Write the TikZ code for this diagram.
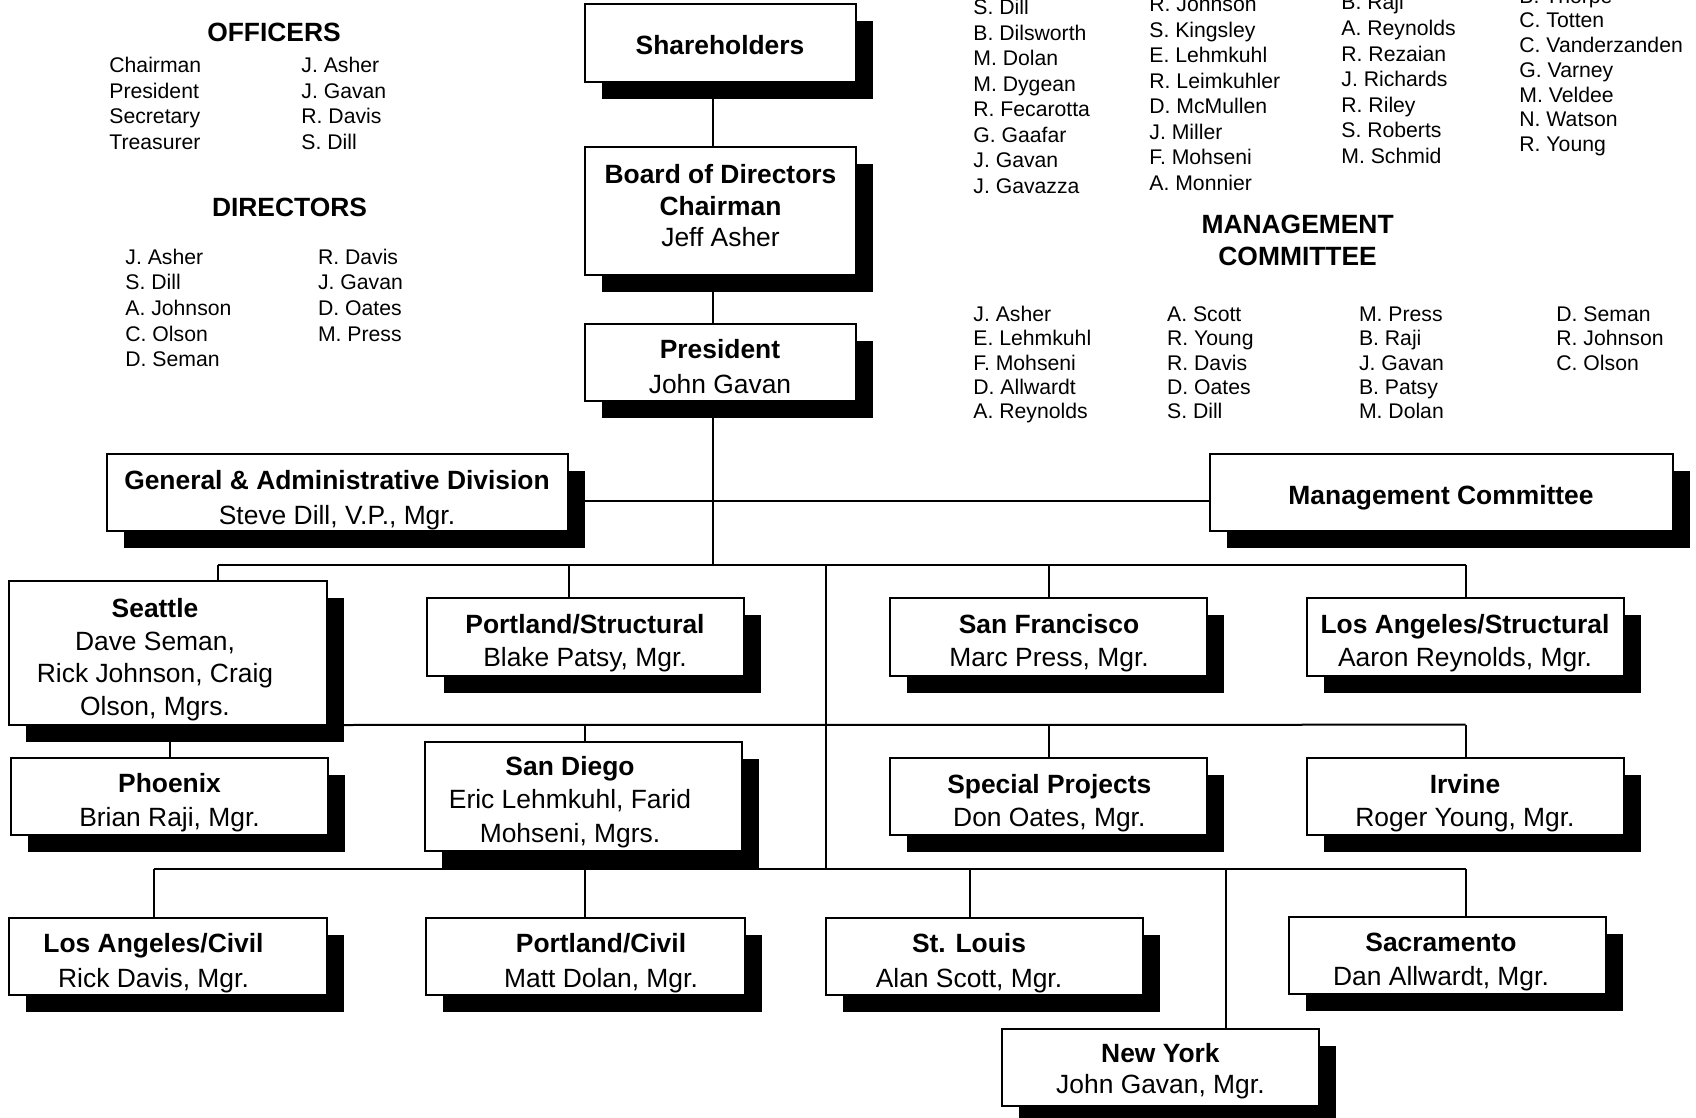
\documentclass[tikz,border=0pt]{standalone}
\usepackage{fontspec}
\setmainfont{Liberation Sans}
\usetikzlibrary{shadows}
% multi-line centred box text: #1 = line pitch (pt), #2 = lines
\newcommand{\tl}[2]{\fontsize{13.2}{#1}\selectfont\begin{tabular}[t]{@{}c@{}}#2\end{tabular}}
% left-aligned name list
\newcommand{\nl}[2]{\fontsize{10.6}{#1}\selectfont\begin{tabular}[t]{@{}l@{}}#2\end{tabular}}
\newcommand{\hd}[1]{\fontsize{13.2}{15.85}\selectfont\bfseries #1}
\newcommand{\obox}[5]{\node[box, minimum width={(#4-#2)*0.5pt}, minimum height={(#5-#3)*0.5pt}] (#1) at ({(#2+#4)/2},{(#3+#5)/2}) {};}
\begin{document}
\begin{tikzpicture}[x=0.5pt,y=-0.5pt,
  box/.style={draw=black, line width=1.15pt, fill=white, inner sep=0pt, outer sep=0pt,
    drop shadow={shadow xshift=8.5pt, shadow yshift=-8.5pt, fill=black, opacity=1}},
  txt/.style={inner sep=0pt, anchor=base},
  lst/.style={inner sep=0pt, anchor=base west},
  link/.style={draw=black, line width=1pt}]
\useasboundingbox (0,0) rectangle (1696,1118);
\clip (0,0) rectangle (1696,1118);
\fill[white] (0,0) rectangle (1696,1118);

% ---------- helper coordinates ----------
\coordinate (tx) at (713,0);
\coordinate (gy) at (0,500.7);
\coordinate (bar1) at (0,564.7);
\coordinate (bar2) at (0,724.7);
\coordinate (bar3) at (0,869);
\coordinate (vx) at (826,0);
\coordinate (xsea) at (218,0);
\coordinate (xpds) at (569,0);
\coordinate (xsf) at (1049,0);
\coordinate (xlas) at (1465.5,0);
\coordinate (xsd) at (585,0);
\coordinate (xphx) at (170,0);
\coordinate (xlac) at (154,0);
\coordinate (xpdc) at (585.4,0);
\coordinate (xstl) at (970,0);
\coordinate (xny) at (1226,0);

% ---------- anchor placeholders (invisible) ----------
\begin{scope}[box/.style={inner sep=0pt, outer sep=0pt}]
\obox{share}{585}{4}{856}{82}
\obox{board}{585}{147}{856}{275}
\obox{pres}{585}{324}{856}{401}
\obox{ga}{107}{454}{568}{531}
\obox{mc}{1210}{454}{1673}{531}
\obox{sea}{9}{581}{327}{725}
\obox{pds}{427}{598}{744}{676}
\obox{sf}{890}{598}{1207}{676}
\obox{las}{1307}{598}{1624}{676}
\obox{phx}{11}{758}{328}{835}
\obox{sd}{425}{742}{742}{851}
\obox{sp}{890}{758}{1207}{835}
\obox{irv}{1307}{758}{1624}{835}
\obox{lac}{9}{918}{327}{995}
\obox{pdc}{426}{918}{745}{995}
\obox{stl}{826}{918}{1143}{995}
\obox{sac}{1289}{917}{1606}{994}
\obox{ny}{1002}{1029}{1319}{1106}
\end{scope}

% ---------- connectors ----------
\draw[link] (share.south -| tx) -- (board.north -| tx);
\draw[link] (board.south -| tx) -- (pres.north -| tx);
\draw[link] (pres.south -| tx) -- (bar1 -| tx);
\draw[link] (ga.east |- gy) -- (mc.west |- gy);
\draw[link] (bar1 -| xsea) -- (bar1 -| xlas);
\draw[link] (bar1 -| xsea) -- (sea.north -| xsea);
\draw[link] (bar1 -| xpds) -- (pds.north -| xpds);
\draw[link] (bar1 -| xsf) -- (sf.north -| xsf);
\draw[link] (bar1 -| xlas) -- (las.north -| xlas);
\draw[link] (bar1 -| vx) -- (bar3 -| vx);
\draw[link] (sea.south east) -- (bar2 -| xlas);
\draw[link] (sea.south -| xphx) -- (phx.north -| xphx);
\draw[link] (bar2 -| xsd) -- (sd.north -| xsd);
\draw[link] (bar2 -| xsf) -- (sp.north -| xsf);
\draw[link] (bar2 -| xlas) -- (irv.north -| xlas);
\draw[link] (bar3 -| xlac) -- (bar3 -| xlas);
\draw[link] (bar3 -| xlac) -- (lac.north -| xlac);
\draw[link] (bar3 -| xpdc) -- (pdc.north -| xpdc);
\draw[link] (bar3 -| xstl) -- (stl.north -| xstl);
\draw[link] (bar3 -| xny) -- (ny.north -| xny);
\draw[link] (bar3 -| xlas) -- (sac.north -| xlas);

% ---------- visible boxes with shadows ----------
\obox{shareB}{585}{4}{856}{82}
\obox{boardB}{585}{147}{856}{275}
\obox{presB}{585}{324}{856}{401}
\obox{gaB}{107}{454}{568}{531}
\obox{mcB}{1210}{454}{1673}{531}
\obox{seaB}{9}{581}{327}{725}
\obox{pdsB}{427}{598}{744}{676}
\obox{sfB}{890}{598}{1207}{676}
\obox{lasB}{1307}{598}{1624}{676}
\obox{phxB}{11}{758}{328}{835}
\obox{sdB}{425}{742}{742}{851}
\obox{spB}{890}{758}{1207}{835}
\obox{irvB}{1307}{758}{1624}{835}
\obox{lacB}{9}{918}{327}{995}
\obox{pdcB}{426}{918}{745}{995}
\obox{stlB}{826}{918}{1143}{995}
\obox{sacB}{1289}{917}{1606}{994}
\obox{nyB}{1002}{1029}{1319}{1106}

% ---------- box texts ----------
\node[txt] (shareT) at (720,55) {\tl{16}{\textbf{Shareholders}}};
\node[txt] (boardT) at (720.5,183.5) {\tl{15.85}{\textbf{Board of Directors}\\\textbf{Chairman}\\Jeff Asher}};
\node[txt] (presT) at (720,358.8) {\tl{17.2}{\textbf{President}\\John Gavan}};
\node[txt] (gaT) at (337,489.3) {\tl{17.35}{\textbf{General \& Administrative Division}\\Steve Dill, V.P., Mgr.}};
\node[txt] (mcT) at (1441,504.5) {\tl{16}{\textbf{Management Committee}}};
\node[txt] (seaT) at (155,617.2) {\tl{16.4}{\textbf{Seattle}\\Dave Seman,\\Rick Johnson, Craig\\Olson, Mgrs.}};
\node[txt] (pdsT) at (585,633.2) {\tl{16.65}{\textbf{Portland/Structural}\\Blake Patsy, Mgr.}};
\node[txt] (sfT) at (1049,633.2) {\tl{16.65}{\textbf{San Francisco}\\Marc Press, Mgr.}};
\node[txt] (lasT) at (1465,633.2) {\tl{16.65}{\textbf{Los Angeles/Structural}\\Aaron Reynolds, Mgr.}};
\node[txt] (phxT) at (169.5,792.8) {\tl{16.85}{\textbf{Phoenix}\\Brian Raji, Mgr.}};
\node[txt] (sdT) at (570,775.5) {\tl{16.65}{\textbf{San Diego}\\Eric Lehmkuhl, Farid\\Mohseni, Mgrs.}};
\node[txt] (spT) at (1049.3,793.2) {\tl{16.65}{\textbf{Special Projects}\\Don Oates, Mgr.}};
\node[txt] (irvT) at (1465,793.2) {\tl{16.65}{\textbf{Irvine}\\Roger Young, Mgr.}};
\node[txt] (lacT) at (153.5,952.8) {\tl{17.2}{\textbf{Los Angeles/Civil}\\Rick Davis, Mgr.}};
\node[txt] (pdcT) at (601,952.8) {\tl{17.2}{\textbf{Portland/Civil}\\Matt Dolan, Mgr.}};
\node[txt] (stlT) at (969,952.8) {\tl{17.2}{\textbf{St. Louis}\\Alan Scott, Mgr.}};
\node[txt] (sacT) at (1441,951.5) {\tl{17.2}{\textbf{Sacramento}\\Dan Allwardt, Mgr.}};
\node[txt] (nyT) at (1160.4,1062.2) {\tl{15.8}{\textbf{New York}\\John Gavan, Mgr.}};

% ---------- officers & directors ----------
\node[txt] (offH) at (274,41.7) {\hd{OFFICERS}};
\node[lst] (offL) at (109,72.7) {\nl{12.8}{Chairman\\President\\Secretary\\Treasurer}};
\node[lst] (offR) at (301,72.7) {\nl{12.8}{J. Asher\\J. Gavan\\R. Davis\\S. Dill}};
\node[txt] (dirH) at (289.5,217) {\hd{DIRECTORS}};
\node[lst] (dirL) at (125,264.3) {\nl{12.8}{J. Asher\\S. Dill\\A. Johnson\\C. Olson\\D. Seman}};
\node[lst] (dirR) at (317.6,264.3) {\nl{12.8}{R. Davis\\J. Gavan\\D. Oates\\M. Press}};

% ---------- employee list (top right, cut at top edge as in the original) ----------
\node[lst] (emp1) at (973,15) {\nl{12.75}{S. Dill\\B. Dilsworth\\M. Dolan\\M. Dygean\\R. Fecarotta\\G. Gaafar\\J. Gavan\\J. Gavazza}};
\node[lst] (emp2) at (1149,11.7) {\nl{12.75}{R. Johnson\\S. Kingsley\\E. Lehmkuhl\\R. Leimkuhler\\D. McMullen\\J. Miller\\F. Mohseni\\A. Monnier}};
\node[lst] (emp3) at (1341,10) {\nl{12.8}{B. Raji\\A. Reynolds\\R. Rezaian\\J. Richards\\R. Riley\\S. Roberts\\M. Schmid}};
\node[lst] (emp4) at (1519,3.3) {\nl{12.35}{B. Thorpe\\C. Totten\\C. Vanderzanden\\G. Varney\\M. Veldee\\N. Watson\\R. Young}};

% ---------- management committee list ----------
\node[txt] (mgH) at (1297.6,233.3) {\tl{15.85}{\textbf{MANAGEMENT}\\\textbf{COMMITTEE}}};
\node[lst] (mg1) at (973,321.7) {\nl{12.1}{J. Asher\\E. Lehmkuhl\\F. Mohseni\\D. Allwardt\\A. Reynolds}};
\node[lst] (mg2) at (1166.7,321.7) {\nl{12.1}{A. Scott\\R. Young\\R. Davis\\D. Oates\\S. Dill}};
\node[lst] (mg3) at (1358.6,321.7) {\nl{12.1}{M. Press\\B. Raji\\J. Gavan\\B. Patsy\\M. Dolan}};
\node[lst] (mg4) at (1556,321.7) {\nl{12.1}{D. Seman\\R. Johnson\\C. Olson}};
\end{tikzpicture}
\end{document}
